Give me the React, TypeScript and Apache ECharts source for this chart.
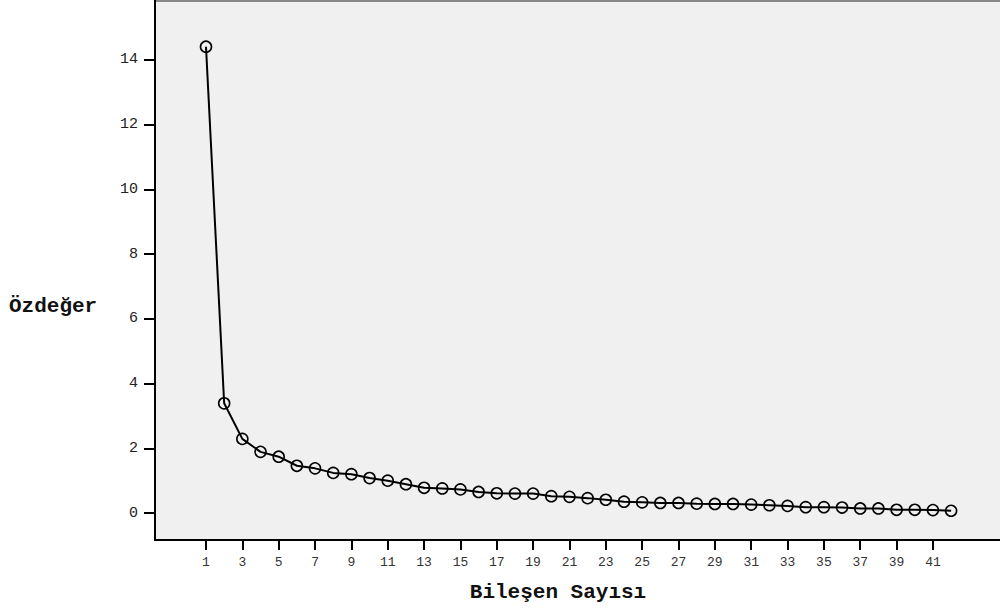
import React, { useEffect, useRef } from "react";
import * as echarts from "echarts";

const components: number[] = Array.from({ length: 42 }, (_, i) => i + 1);
const eigenvalues: number[] = [
  14.41, 3.39, 2.29, 1.89, 1.74, 1.46, 1.38, 1.24, 1.2, 1.08,
  1.0, 0.89, 0.78, 0.76, 0.73, 0.65, 0.61, 0.6, 0.6, 0.52,
  0.5, 0.46, 0.41, 0.35, 0.33, 0.31, 0.31, 0.29, 0.28, 0.28,
  0.26, 0.24, 0.22, 0.18, 0.18, 0.17, 0.14, 0.14, 0.1, 0.1,
  0.09, 0.07,
];
const xTickValues: number[] = [1, 3, 5, 7, 9, 11, 13, 15, 17, 19, 21, 23, 25, 27, 29, 31, 33, 35, 37, 39, 41];
const yTickValues: number[] = [0, 2, 4, 6, 8, 10, 12, 14];
const yTitle = "Özdeğer";
const xTitle = "Bileşen Sayısı";

const FONT = "'Liberation Mono', 'DejaVu Sans Mono', monospace";

export default function App() {
  const ref = useRef<HTMLDivElement>(null);
  useEffect(() => {
    if (!ref.current) return;
    const chart = echarts.init(ref.current, null, { renderer: "svg" });
    chart.setOption({
      animation: false,
      backgroundColor: "#ffffff",
      grid: {
        left: 155,
        right: 0,
        top: 0,
        bottom: 71,
        show: true,
        backgroundColor: "#f0f0f0",
        borderWidth: 0,
      },
      xAxis: {
        type: "value",
        min: -1.806,
        max: 44.69,
        axisLine: { show: true, onZero: false, lineStyle: { color: "#000", width: 2 } },
        axisTick: { show: true, customValues: xTickValues, length: 10, lineStyle: { color: "#000", width: 2 } },
        axisLabel: {
          customValues: xTickValues,
          margin: 16,
          color: "#333",
          fontSize: 13,
          fontFamily: FONT,
        },
        splitLine: { show: false },
      },
      yAxis: {
        type: "value",
        min: -0.834,
        max: 15.854,
        axisLine: { show: true, onZero: false, lineStyle: { color: "#000", width: 2 } },
        axisTick: { show: true, customValues: yTickValues, length: 11, lineStyle: { color: "#000", width: 2 } },
        axisLabel: {
          customValues: yTickValues,
          margin: 17,
          color: "#222",
          fontSize: 15,
          fontFamily: FONT,
        },
        splitLine: { show: false },
      },
      graphic: [
        {
          type: "rect",
          shape: { x: 155, y: 0, width: 845, height: 2 },
          style: { fill: "#888" },
          silent: true,
        },
        {
          type: "text",
          left: 9,
          top: 296,
          style: {
            text: yTitle,
            font: `bold 21px ${FONT}`,
            fill: "#111",
          },
        },
        {
          type: "text",
          x: 558,
          y: 592,
          style: {
            text: xTitle,
            font: `bold 21px ${FONT}`,
            fill: "#111",
            textAlign: "center",
            textVerticalAlign: "middle",
          },
        },
      ],
      series: [
        {
          type: "line",
          data: components.map((c, i) => [c, eigenvalues[i]]),
          symbol: "circle",
          symbolSize: 11,
          showSymbol: true,
          lineStyle: { color: "#000", width: 2 },
          itemStyle: { color: "rgba(0,0,0,0)", borderColor: "#000", borderWidth: 1.6 },
          emphasis: { disabled: true },
        },
      ],
    });
    return () => chart.dispose();
  }, []);
  return (
    <div
      ref={ref}
      style={{ position: "fixed", left: 0, top: 0, width: 1000, height: 611 }}
    />
  );
}
